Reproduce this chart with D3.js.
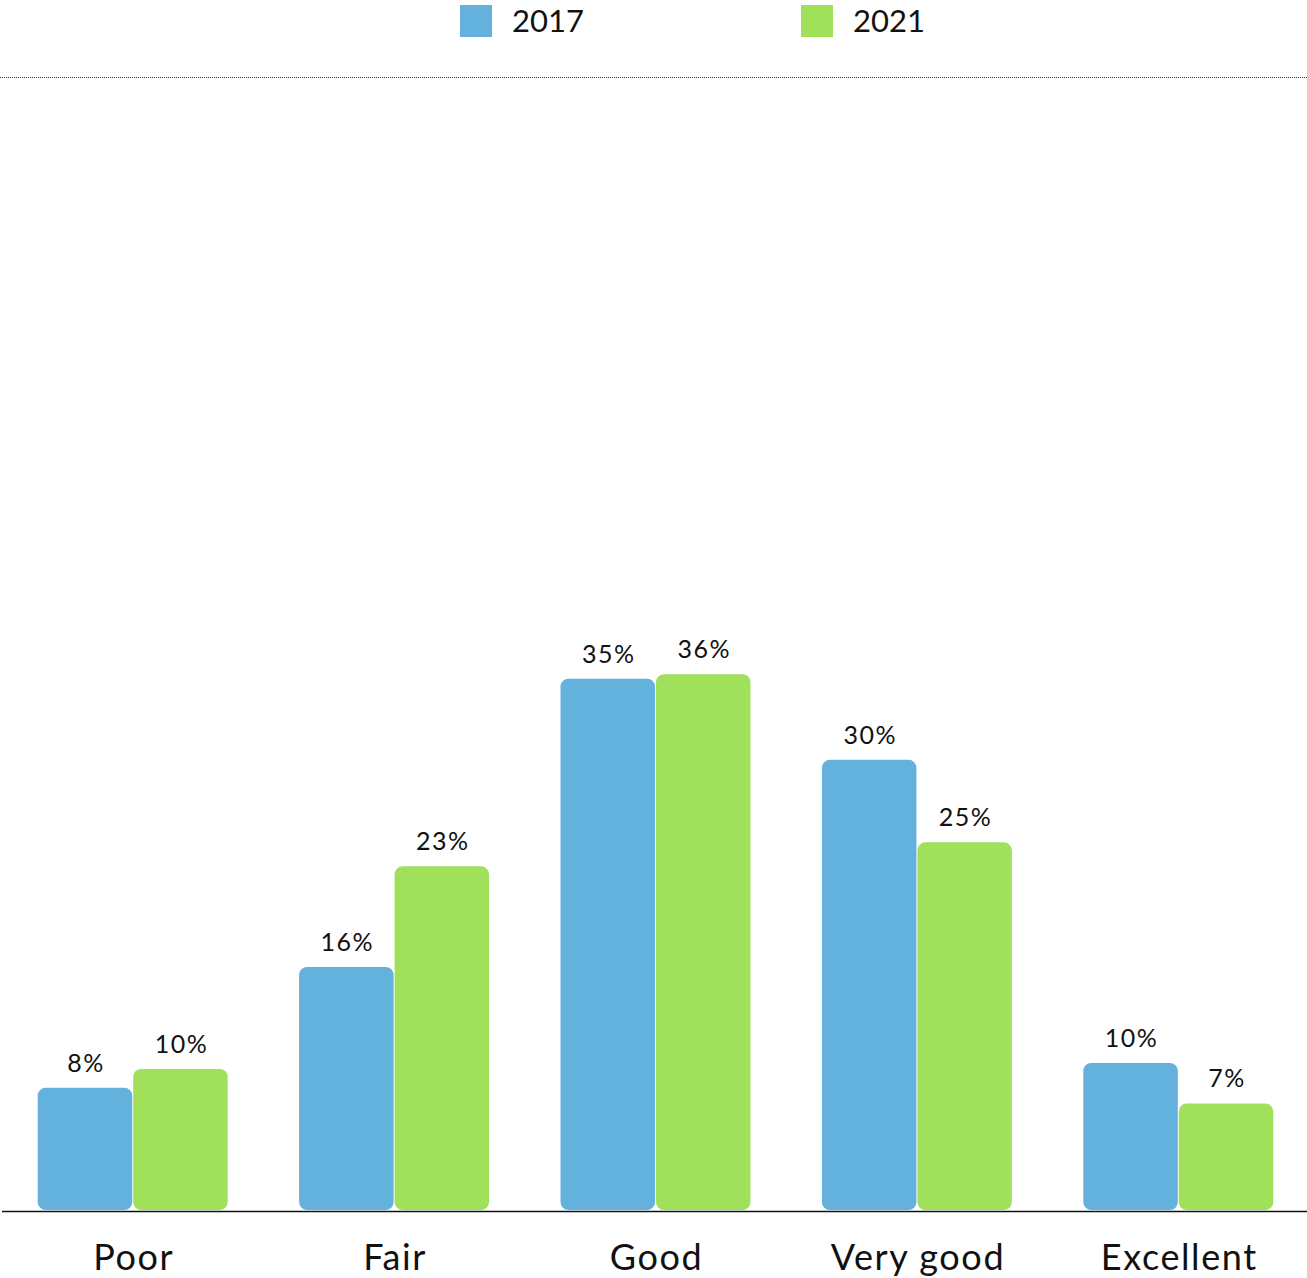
<!DOCTYPE html>
<html>
<head>
<meta charset="utf-8">
<script src="https://cdn.jsdelivr.net/npm/d3@7"></script>
<style>
  html, body { margin: 0; padding: 0; background: #fff; }
  svg { display: block; }
  text { font-family: Lato, "Open Sans", sans-serif; fill: #111; }
</style>
</head>
<body>
<svg id="chart" width="1307" height="1278"></svg>
<script>
const categories = ["Poor", "Fair", "Good", "Very good", "Excellent"];
const seriesNames = ["2017", "2021"];
const values2017 = [8.15, 16.2, 35.4, 30.0, 9.8];
const values2021 = [9.4, 22.9, 35.7, 24.5, 7.1];
const labels2017 = ["8%", "16%", "35%", "30%", "10%"];
const labels2021 = ["10%", "23%", "36%", "25%", "7%"];
const colors = ["#63b2de", "#a0e05b"];
const yMax = 75.5;

const svg = d3.select("#chart");
const W = 1307, H = 1278;
const baseY = 1210, topY = 77;

const x = d3.scaleBand().domain(categories).range([2, 1309]).paddingInner(0).paddingOuter(0);
const xs = d3.scaleBand().domain(seriesNames).range([0, 190]).paddingInner(0.01);
const y = d3.scaleLinear().domain([0, yMax]).range([baseY, topY]);

// dotted top line
svg.append("line")
  .attr("x1", 0).attr("x2", W).attr("y1", 77.5).attr("y2", 77.5)
  .attr("stroke", "#333").attr("stroke-width", 1).attr("stroke-dasharray", "1,1");

const data = [];
categories.forEach((c, i) => {
  data.push({cat: c, s: seriesNames[0], v: values2017[i], label: labels2017[i], color: colors[0]});
  data.push({cat: c, s: seriesNames[1], v: values2021[i], label: labels2021[i], color: colors[1]});
});

const groupOffset = (x.bandwidth() - 190) / 2;

svg.append("g").selectAll("rect").data(data).join("rect")
  .attr("x", d => x(d.cat) + groupOffset + xs(d.s))
  .attr("y", d => y(d.v))
  .attr("width", xs.bandwidth())
  .attr("height", d => baseY - y(d.v))
  .attr("rx", 8).attr("ry", 8)
  .attr("fill", d => d.color);

svg.append("g").selectAll("text").data(data).join("text")
  .attr("x", d => x(d.cat) + groupOffset + xs(d.s) + xs.bandwidth() / 2 + 1)
  .attr("y", d => y(d.v) - 16)
  .attr("text-anchor", "middle")
  .attr("font-size", 25)
  .attr("letter-spacing", 1.5)
  .text(d => d.label);

// baseline axis
const xAxis = d3.axisBottom(x).tickSize(0).tickPadding(0);
const ax = svg.append("g").attr("transform", `translate(0,${baseY + 1.5})`).call(xAxis);
ax.select(".domain").attr("stroke", "#111").attr("stroke-width", 1.3).attr("d", "M2,0H1307");
ax.selectAll(".tick text")
  .attr("font-family", "Lato, 'Open Sans', sans-serif")
  .attr("font-size", 36)
  .attr("letter-spacing", 1.6)
  .attr("fill", "#111")
  .attr("dx", 1)
  .attr("dy", 0)
  .attr("y", 58);

// legend
const legendX = [460, 801];
const lg = svg.append("g").selectAll("g").data(seriesNames).join("g")
  .attr("transform", (d, i) => `translate(${legendX[i]},5)`);
lg.append("rect").attr("width", 32).attr("height", 32).attr("fill", (d, i) => colors[i]);
lg.append("text").attr("x", 52).attr("y", 27).attr("font-size", 31).text(d => d);
</script>
</body>
</html>
